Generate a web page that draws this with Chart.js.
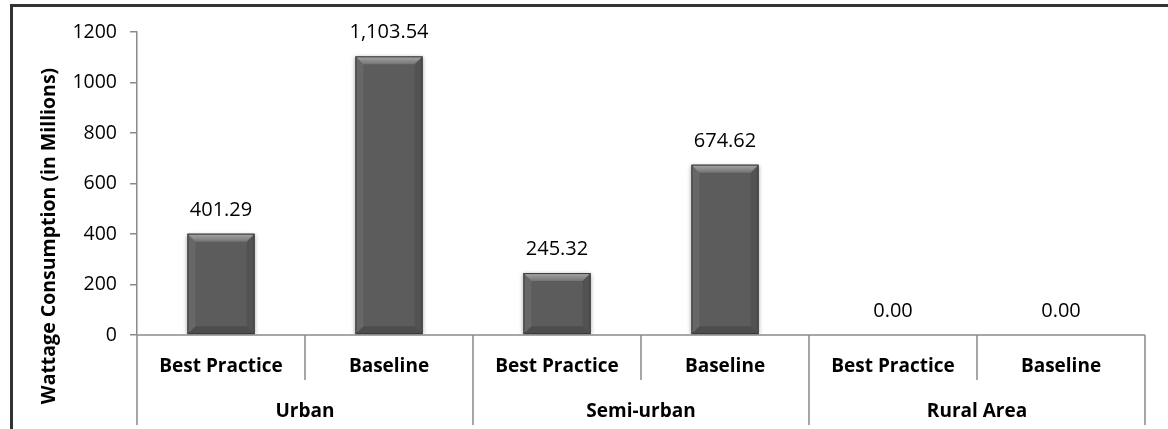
<!DOCTYPE html>
<html>
<head>
<meta charset="utf-8">
<script src="https://cdn.jsdelivr.net/npm/chart.js@4"></script>
<style>
html,body{margin:0;padding:0;background:#fff;}
#wrap{position:relative;width:1168px;height:429px;}
</style>
</head>
<body>
<div id="wrap"><canvas id="c" width="1168" height="429"></canvas></div>
<script>
const subCategories = ['Best Practice', 'Baseline', 'Best Practice', 'Baseline', 'Best Practice', 'Baseline'];
const groups = ['Urban', 'Semi-urban', 'Rural Area'];
const values = [401.29, 1103.54, 245.32, 674.62, 0.00, 0.00];
const yMin = 0, yMax = 1200, yStep = 200;
const yTitle = 'Wattage Consumption (in Millions)';

const AXIS = '#8a8a8a';
const FONT = '"Open Sans", "Liberation Sans", sans-serif';

function fmt(v){
  return v.toLocaleString('en-US', {minimumFractionDigits: 2, maximumFractionDigits: 2});
}

const decor = {
  id: 'decor',
  beforeDraw(chart){
    const ctx = chart.ctx;
    ctx.save();
    ctx.fillStyle = '#fff';
    ctx.fillRect(0, 0, chart.width, chart.height);
    // outer frame (top + left)
    ctx.fillStyle = '#333';
    ctx.fillRect(10, 4, chart.width - 10, 3);
    ctx.fillRect(10, 4, 3, chart.height - 4);
    ctx.restore();
  },
  beforeDatasetDraw(chart){
    const ctx = chart.ctx;
    ctx.save();
    ctx.shadowColor = 'rgba(0,0,0,0.35)';
    ctx.shadowBlur = 4;
    ctx.shadowOffsetX = 0;
    ctx.shadowOffsetY = 1;
  },
  afterDatasetDraw(chart){
    chart.ctx.restore();
  },
  afterDatasetsDraw(chart){
    const ctx = chart.ctx;
    const meta = chart.getDatasetMeta(0);
    const ca = chart.chartArea;
    const xs = chart.scales.x;
    // bevel overlays
    meta.data.forEach((bar) => {
      const p = bar.getProps(['x','y','width','base'], true);
      const l = p.x - p.width/2, r = p.x + p.width/2, t = p.y, b = p.base;
      const h = b - t;
      if (h < 2) return;
      const bv = Math.min(8, h/2);
      ctx.save();
      let g = ctx.createLinearGradient(0, t, 0, t + bv);
      g.addColorStop(0, '#a8a8a8');
      g.addColorStop(1, '#747474');
      ctx.fillStyle = g;
      ctx.beginPath();
      ctx.moveTo(l, t); ctx.lineTo(r, t); ctx.lineTo(r - bv, t + bv); ctx.lineTo(l + bv, t + bv); ctx.closePath();
      ctx.fill();
      ctx.fillStyle = 'rgba(255,255,255,0.07)';
      ctx.beginPath();
      ctx.moveTo(l, t); ctx.lineTo(l + bv, t + bv); ctx.lineTo(l + bv, b - bv); ctx.lineTo(l, b); ctx.closePath();
      ctx.fill();
      ctx.fillStyle = 'rgba(0,0,0,0.10)';
      ctx.beginPath();
      ctx.moveTo(r, t); ctx.lineTo(r - bv, t + bv); ctx.lineTo(r - bv, b - bv); ctx.lineTo(r, b); ctx.closePath();
      ctx.fill();
      ctx.fillStyle = 'rgba(0,0,0,0.16)';
      ctx.beginPath();
      ctx.moveTo(l, b); ctx.lineTo(l + bv, b - bv); ctx.lineTo(r - bv, b - bv); ctx.lineTo(r, b); ctx.closePath();
      ctx.fill();
      ctx.strokeStyle = '#363636';
      ctx.lineWidth = 1;
      ctx.strokeRect(l + 0.5, t + 0.5, p.width - 1, h - 1);
      ctx.restore();
    });

    ctx.save();
    // axis lines and separators
    ctx.strokeStyle = AXIS;
    ctx.lineWidth = 1.5;
    ctx.beginPath();
    ctx.moveTo(ca.left, ca.bottom); ctx.lineTo(ca.right, ca.bottom);
    ctx.moveTo(ca.left, ca.bottom); ctx.lineTo(ca.left, 425);
    const n = subCategories.length;
    for (let i = 1; i <= n; i++) {
      const xb = i < n ? (xs.getPixelForValue(i - 1) + xs.getPixelForValue(i)) / 2 : ca.right;
      const long = (i % 2 === 0);
      ctx.moveTo(xb, ca.bottom);
      ctx.lineTo(xb, long ? 425 : 380);
    }
    ctx.stroke();

    // value labels
    ctx.fillStyle = '#000';
    ctx.font = '20px ' + FONT;
    ctx.textAlign = 'center';
    ctx.textBaseline = 'alphabetic';
    meta.data.forEach((bar, i) => {
      const p = bar.getProps(['x','y'], true);
      ctx.fillText(fmt(values[i]), p.x, p.y - 18);
    });

    // category labels
    ctx.font = 'bold 19px ' + FONT;
    subCategories.forEach((s, i) => {
      ctx.fillText(s, xs.getPixelForValue(i), 372);
    });
    groups.forEach((gname, gi) => {
      const cx = (xs.getPixelForValue(gi * 2) + xs.getPixelForValue(gi * 2 + 1)) / 2;
      ctx.fillText(gname, cx, 417);
    });

    // y title
    ctx.translate(55, 236);
    ctx.rotate(-Math.PI / 2);
    ctx.font = 'bold 19.5px ' + FONT;
    ctx.fillText(yTitle, 0, 0);
    ctx.restore();
  }
};

const barFill = (context) => {
  const chart = context.chart;
  const el = context.element;
  if (!el || el.x === undefined) return '#5c5c5c';
  const l = el.x - el.width / 2, r = el.x + el.width / 2;
  const g = chart.ctx.createLinearGradient(l, 0, r, 0);
  g.addColorStop(0, '#4c4c4c');
  g.addColorStop(0.5, '#646464');
  g.addColorStop(1, '#4a4a4a');
  return g;
};

new Chart(document.getElementById('c'), {
  type: 'bar',
  data: {
    labels: subCategories.map((s, i) => i),
    datasets: [{
      data: values,
      backgroundColor: barFill,
      borderWidth: 0,
      barPercentage: 0.4,
      categoryPercentage: 1.0
    }]
  },
  options: {
    responsive: false,
    animation: false,
    devicePixelRatio: 1,
    layout: { padding: { left: 0, right: 23, top: 32, bottom: 94 } },
    plugins: { legend: { display: false }, tooltip: { enabled: false } },
    scales: {
      x: { display: false, offset: true },
      y: {
        min: yMin, max: yMax,
        afterFit(scale){ scale.width = 137; },
        ticks: {
          stepSize: yStep,
          padding: 13,
          color: '#000',
          font: { family: FONT, size: 19.5 },
          callback: (v) => String(v)
        },
        grid: { drawOnChartArea: false, drawTicks: true, tickLength: 7, color: AXIS, lineWidth: 1.5 },
        border: { display: true, color: AXIS, width: 1.5 }
      }
    }
  },
  plugins: [decor]
});
</script>
</body>
</html>
